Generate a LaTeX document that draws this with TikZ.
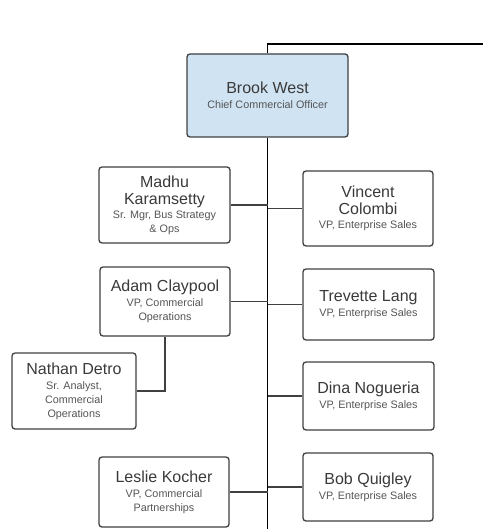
\documentclass[tikz,border=0pt]{standalone}
\usepackage{fontspec}
\setmainfont{Liberation Sans}
\definecolor{boxline}{HTML}{404040}
\definecolor{ceofill}{HTML}{CFE3F3}
\definecolor{nametext}{HTML}{3A3A3A}
\definecolor{roletext}{HTML}{555555}
\newcommand{\nm}{\fontsize{16}{18}\selectfont\color{nametext}}
\newcommand{\rl}{\fontsize{10.8}{12.5}\selectfont\color{roletext}}
\begin{document}
\begin{tikzpicture}[x=1pt,y=-1pt,
  card/.style={draw=boxline,line width=1.3pt,rounded corners=3pt,fill=white,
    align=center,inner sep=2pt,anchor=center},
  link/.style={draw=boxline,line width=1.3pt},
  trunk/.style={draw=black,line width=1.8pt}]
  \useasboundingbox (0,0) rectangle (483,529);
  % top of the chart
  \node[card,fill=ceofill,minimum width=161pt,minimum height=83pt] (brook) at (267.5,95.5)
    {\nm Brook West\\[3pt]\rl Chief Commercial Officer};
  % left column
  \node[card,minimum width=131pt,minimum height=76pt] (madhu) at (164.5,205)
    {\nm Madhu\\[5pt]\nm Karamsetty\\[2pt]\rl Sr. Mgr, Bus Strategy\\[2pt]\rl \& Ops};
  \node[card,minimum width=130pt,minimum height=69pt] (adam) at (165,301.5)
    {\nm Adam Claypool\\[3pt]\rl VP, Commercial\\[2pt]\rl Operations};
  \node[card,minimum width=124pt,minimum height=76pt] (nathan) at (74,391)
    {\nm Nathan Detro\\[3pt]\rl Sr. Analyst,\\[2pt]\rl Commercial\\[2pt]\rl Operations};
  \node[card,minimum width=130pt,minimum height=70pt] (leslie) at (164,492)
    {\nm Leslie Kocher\\[3pt]\rl VP, Commercial\\[2pt]\rl Partnerships};
  % right column
  \node[card,minimum width=130pt,minimum height=75pt] (vincent) at (368,208.5)
    {\nm Vincent\\[5pt]\nm Colombi\\[2pt]\rl VP, Enterprise Sales};
  \node[card,minimum width=131pt,minimum height=71pt] (trevette) at (368.5,304.5)
    {\nm Trevette Lang\\[3pt]\rl VP, Enterprise Sales};
  \node[card,minimum width=131pt,minimum height=68pt] (dina) at (368.5,396)
    {\nm Dina Nogueria\\[3pt]\rl VP, Enterprise Sales};
  \node[card,minimum width=130pt,minimum height=68pt] (bob) at (368,487)
    {\nm Bob Quigley\\[3pt]\rl VP, Enterprise Sales};

  % lines
  \coordinate (up) at (267.5,44);
  \coordinate (upend) at (483,44);
  \coordinate (down) at (267.5,529);
  \draw[trunk] (brook.north) -- (up) -- (upend);
  \draw[trunk] (brook.south) -- (down);
  \foreach \n in {madhu,adam,leslie}
    \draw[link] (\n.east) -- (\n.east -| down);
  \foreach \n in {vincent,trevette,dina,bob}
    \draw[link] (\n.west) -- (\n.west -| down);
  \draw[link] (adam.south) |- (nathan.east);
\end{tikzpicture}
\end{document}
